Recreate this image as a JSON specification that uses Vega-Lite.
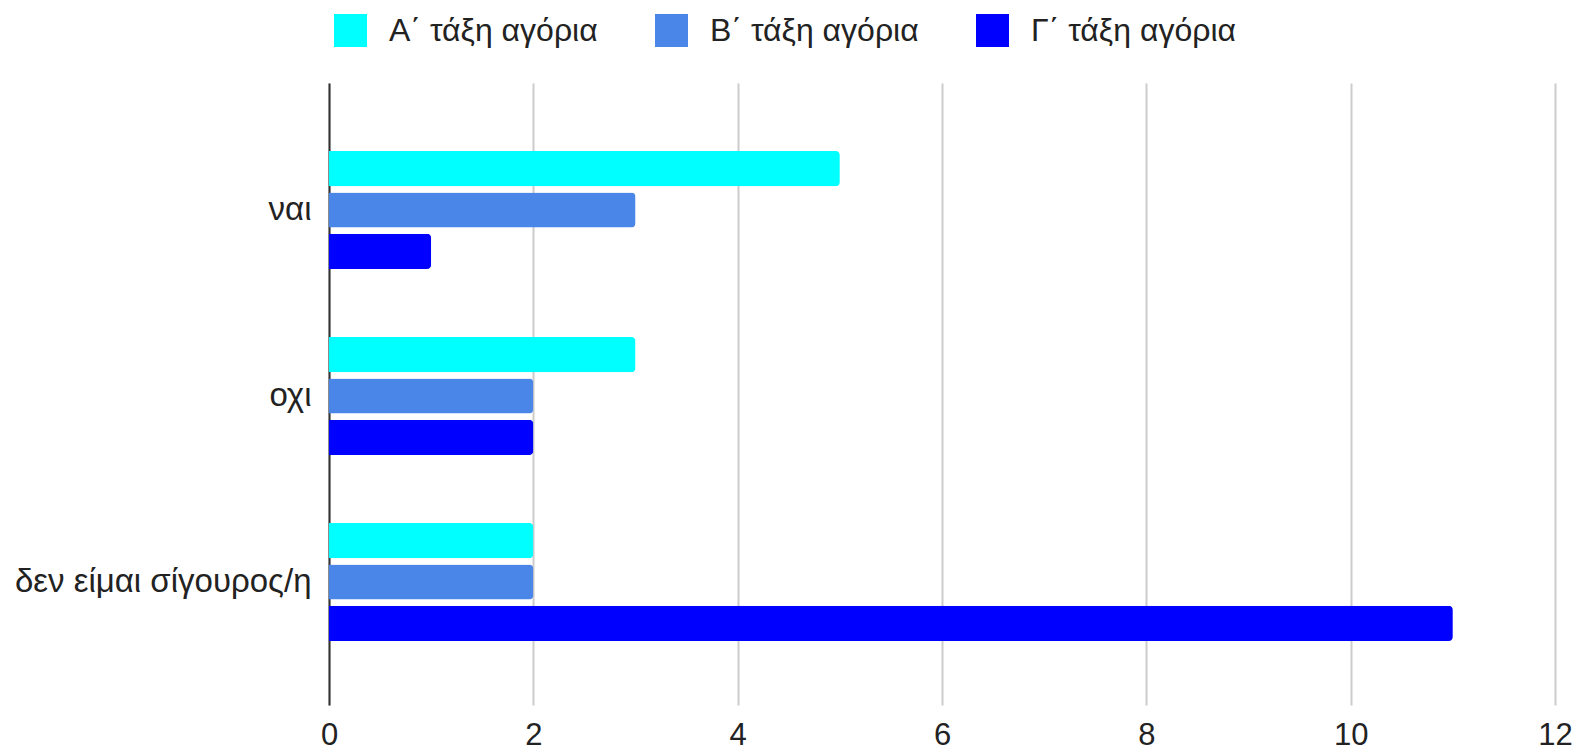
{
  "$schema": "https://vega.github.io/schema/vega-lite/v6.json",
  "autosize": "none",
  "padding": {"left": 329, "top": 83, "right": 20, "bottom": 51},
  "width": 1226,
  "height": 622,
  "background": "white",
  "config": {
    "font": "Liberation Sans",
    "view": {"stroke": null}
  },
  "data": {
    "values": [
      {"answer": "ναι", "series": "Α΄ τάξη αγόρια", "value": 5},
      {"answer": "ναι", "series": "Β΄ τάξη αγόρια", "value": 3},
      {"answer": "ναι", "series": "Γ΄ τάξη αγόρια", "value": 1},
      {"answer": "οχι", "series": "Α΄ τάξη αγόρια", "value": 3},
      {"answer": "οχι", "series": "Β΄ τάξη αγόρια", "value": 2},
      {"answer": "οχι", "series": "Γ΄ τάξη αγόρια", "value": 2},
      {"answer": "δεν είμαι σίγουρος/η", "series": "Α΄ τάξη αγόρια", "value": 2},
      {"answer": "δεν είμαι σίγουρος/η", "series": "Β΄ τάξη αγόρια", "value": 2},
      {"answer": "δεν είμαι σίγουρος/η", "series": "Γ΄ τάξη αγόρια", "value": 11}
    ]
  },
  "mark": {"type": "bar", "cornerRadiusEnd": 4},
  "encoding": {
    "y": {
      "field": "answer",
      "type": "nominal",
      "sort": ["ναι", "οχι", "δεν είμαι σίγουρος/η"],
      "scale": {"paddingInner": 0.366, "paddingOuter": 0.355, "align": 0.515},
      "axis": {
        "title": null,
        "ticks": false,
        "grid": false,
        "domain": true,
        "domainColor": "#333333",
        "domainWidth": 2,
        "labelFontSize": 33,
        "labelColor": "#222222",
        "labelPadding": 18,
        "labelLimit": 500
      }
    },
    "yOffset": {
      "field": "series",
      "type": "nominal",
      "scale": {"paddingInner": 0.15, "paddingOuter": 0}
    },
    "x": {
      "field": "value",
      "type": "quantitative",
      "scale": {"domain": [0, 12], "nice": false},
      "axis": {
        "title": null,
        "values": [0, 2, 4, 6, 8, 10, 12],
        "ticks": false,
        "domain": false,
        "grid": true,
        "gridColor": "#cccccc",
        "gridWidth": 2,
        "labelFontSize": 31,
        "labelColor": "#222222",
        "labelPadding": 15,
        "labelFlush": false
      }
    },
    "color": {
      "field": "series",
      "type": "nominal",
      "scale": {
        "domain": ["Α΄ τάξη αγόρια", "Β΄ τάξη αγόρια", "Γ΄ τάξη αγόρια"],
        "range": ["#00ffff", "#4a86e8", "#0000ff"]
      },
      "legend": {
        "title": null,
        "orient": "none",
        "direction": "horizontal",
        "legendX": 5,
        "legendY": -69,
        "symbolType": "square",
        "symbolSize": 1089,
        "symbolStrokeWidth": 0,
        "symbolOpacity": 1,
        "labelFontSize": 32,
        "labelColor": "#222222",
        "labelOffset": 22,
        "columnPadding": 57,
        "labelLimit": 400
      }
    }
  }
}
